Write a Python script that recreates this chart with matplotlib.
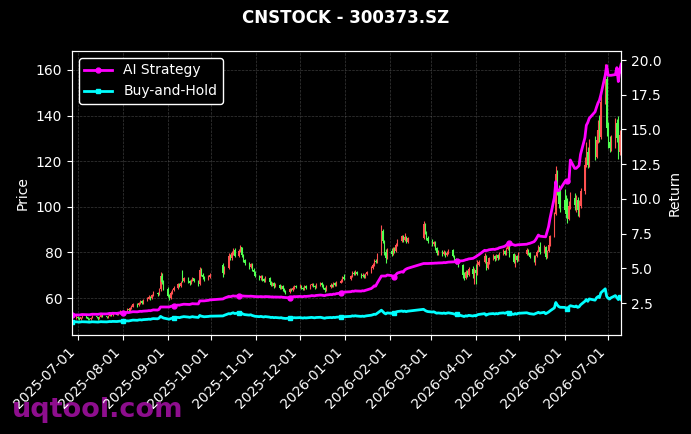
import numpy as np
import pandas as pd
import matplotlib
matplotlib.use("Agg")
import matplotlib.pyplot as plt
import matplotlib.dates as mdates

# ---------------- data ----------------
start_date = "2025-06-27"
end_date = "2026-07-10"
holidays = ["2025-10-01", "2025-10-02", "2025-10-03", "2025-10-06", "2025-10-07", "2025-10-08",
            "2026-01-01", "2026-01-02",
            "2026-02-16", "2026-02-17", "2026-02-18", "2026-02-19", "2026-02-20", "2026-02-23",
            "2026-04-06", "2026-05-01", "2026-05-04", "2026-05-05", "2026-06-19"]

opens = [
    51.0, 51.6,
    # Jul
    51.9, 51.2, 50.8, 51.5, 52.1, 51.6, 51.0, 50.7, 51.4, 52.0, 51.5, 51.0, 51.8, 52.4, 52.0, 51.6, 52.3, 52.9, 52.5, 53.2, 52.8, 53.5, 54.0,
    # Aug
    53.6, 54.3, 55.0, 54.6, 55.6, 56.3, 57.4, 56.8, 57.9, 58.6, 57.8, 58.9, 59.8, 60.6, 59.9, 61.4, 62.3, 61.6, 63.8, 69.5, 67.0,
    # Sep
    64.2, 61.0, 60.2, 62.4, 63.6, 64.5, 66.2, 65.3, 71.2, 67.6, 68.7, 67.3, 66.4, 67.7, 68.6, 67.5, 66.1, 72.5, 70.3, 69.1, 68.2, 69.3,
    # Oct
    74.6, 71.0, 73.2, 78.5, 77.4, 79.6, 81.2, 78.6, 80.8, 82.2, 78.9, 76.5, 75.2, 73.6, 74.8, 72.5, 71.3,
    # Nov
    69.8, 68.6, 69.5, 68.3, 67.4, 68.8, 67.1, 65.8, 66.5, 65.2, 65.9, 64.6, 65.3, 63.8, 63.1, 62.7, 64.0, 63.4, 64.6, 65.3,
    # Dec
    64.8, 65.5, 64.6, 64.0, 65.1, 64.4, 65.6, 66.2, 65.3, 64.7, 65.8, 66.5, 65.6, 64.3, 63.5, 65.0, 65.9, 65.2, 66.4, 65.7, 66.8, 67.6, 69.2,
    # Jan
    68.4, 69.6, 71.2, 70.4, 71.5, 70.6, 69.5, 70.3, 69.4, 70.6, 71.4, 73.2, 74.6, 76.4, 75.8, 79.2, 89.5, 85.0, 80.2, 77.6,
    # Feb
    80.8, 79.2, 81.8, 80.6, 83.4, 85.2, 87.0, 85.4, 86.6, 84.8, 86.2, 92.4, 89.0, 86.4,
    # Mar
    85.0, 83.6, 84.4, 82.0, 79.8, 80.6, 79.2, 80.4, 78.9, 79.8, 81.0, 78.6, 77.1, 75.8, 76.5, 74.6, 70.2, 69.0, 71.6, 70.2, 72.8, 70.6,
    # Apr
    72.4, 70.8, 74.6, 75.8, 78.4, 73.2, 75.6, 77.4, 78.6, 77.0, 78.8, 77.5, 79.6, 80.8, 79.4, 81.6, 83.2, 79.4, 76.0, 78.6, 76.8,
    # May
    79.4, 81.2, 79.6, 78.2, 76.4, 78.6, 80.4, 82.6, 80.2, 82.6, 78.0, 80.6, 83.4, 87.2, 97.0, 114.5, 106.5, 101.2,
    # Jun
    102.8, 103.4, 99.6, 94.8, 100.2, 104.0, 100.6, 103.2, 98.6, 100.4, 106.8, 118.4, 124.0, 118.2, 126.0, 122.0, 129.4, 133.6, 130.4, 145.8, 156.0,
    # Jul
    134.5, 128.2, 125.6, 129.8, 136.8, 130.2, 124.0, 131.4,
]

highs = [
    52.4, 52.6,
    52.3, 51.7, 51.9, 52.6, 52.4, 51.9, 51.3, 51.8, 52.5, 52.3, 51.8, 52.2, 52.9, 52.7, 52.3, 52.7, 53.4, 53.2, 53.7, 53.6, 54.0, 54.6, 54.4,
    54.8, 55.5, 55.4, 56.0, 56.9, 57.9, 57.8, 58.4, 59.3, 59.0, 59.5, 60.5, 61.4, 61.0, 62.0, 63.0, 62.8, 64.5, 71.4, 70.8, 68.0,
    64.8, 61.6, 62.9, 64.2, 65.1, 66.8, 66.7, 67.4, 72.3, 69.4, 69.1, 67.8, 68.2, 69.2, 69.0, 67.9, 73.6, 73.0, 70.9, 69.7, 69.9, 70.8,
    75.4, 74.0, 79.8, 79.2, 80.5, 82.0, 81.9, 81.6, 83.2, 82.6, 79.5, 77.1, 75.9, 75.4, 75.2, 73.1, 71.9,
    70.3, 70.2, 69.9, 68.8, 69.6, 69.2, 67.6, 67.1, 66.9, 66.5, 66.3, 65.9, 65.7, 64.4, 63.6, 64.6, 64.5, 65.2, 65.9, 65.8,
    66.1, 65.9, 65.0, 65.7, 65.6, 66.2, 66.8, 66.6, 65.8, 66.4, 67.1, 66.9, 66.0, 64.8, 65.6, 66.5, 66.3, 67.0, 66.9, 67.3, 68.2, 69.8, 70.5,
    70.3, 71.8, 71.7, 72.1, 71.9, 71.0, 70.9, 70.7, 71.2, 72.0, 73.9, 75.3, 77.0, 77.2, 79.9, 92.0, 90.4, 85.6, 81.3, 81.9,
    82.0, 82.4, 82.3, 84.0, 86.0, 87.8, 87.5, 88.6, 87.1, 86.9, 93.8, 93.0, 89.6, 87.0,
    85.8, 85.0, 84.9, 82.5, 81.2, 81.0, 81.0, 80.8, 80.5, 81.6, 81.4, 79.0, 77.6, 77.1, 77.0, 75.1, 71.4, 72.4, 72.2, 73.5, 74.2, 73.0,
    75.0, 76.5, 76.9, 79.6, 78.9, 76.4, 78.1, 79.2, 79.0, 79.4, 79.3, 80.2, 81.4, 81.2, 82.3, 84.1, 83.8, 79.9, 79.5, 79.1, 80.0,
    82.0, 81.7, 80.1, 78.8, 79.1, 81.2, 83.4, 84.6, 83.4, 83.0, 81.2, 84.2, 87.8, 97.8, 118.0, 116.0, 109.6, 108.0,
    107.6, 105.0, 103.8, 102.6, 106.4, 106.0, 105.2, 104.4, 103.0, 108.2, 122.0, 128.2, 126.4, 129.6, 131.0, 133.2, 138.0, 140.2, 150.4, 162.6, 157.2,
    137.2, 131.0, 131.6, 139.0, 138.4, 140.0, 133.6, 135.0,
]

lows = [
    50.6, 51.0,
    50.8, 50.3, 50.5, 51.2, 51.2, 50.6, 50.2, 50.4, 51.1, 51.1, 50.6, 50.8, 51.5, 51.6, 51.2, 51.4, 52.0, 52.1, 52.3, 52.4, 52.6, 53.2, 53.1,
    53.3, 54.0, 54.2, 54.4, 55.3, 56.0, 56.3, 56.5, 57.5, 57.2, 57.6, 58.6, 59.4, 59.2, 59.6, 61.0, 61.0, 61.3, 63.2, 66.2, 63.5,
    60.3, 59.2, 59.8, 62.0, 63.1, 64.1, 64.8, 65.0, 67.0, 67.2, 66.8, 65.9, 66.0, 67.3, 67.0, 65.5, 65.8, 69.8, 68.5, 67.6, 67.9, 68.9,
    69.2, 70.4, 72.8, 76.6, 76.9, 78.8, 77.8, 78.0, 80.1, 78.0, 75.8, 74.4, 72.7, 73.0, 71.8, 70.5, 69.1,
    67.9, 68.1, 67.7, 66.9, 67.0, 66.5, 65.2, 65.1, 64.6, 64.8, 64.0, 64.1, 63.2, 62.5, 62.0, 62.3, 62.9, 63.1, 64.2, 64.3,
    64.4, 64.0, 63.4, 63.7, 63.9, 64.1, 65.1, 64.8, 64.2, 64.4, 65.3, 65.0, 63.8, 62.8, 63.1, 64.6, 64.7, 64.9, 65.1, 65.4, 66.4, 67.2, 67.9,
    68.0, 69.2, 69.9, 70.0, 70.1, 69.0, 69.1, 68.8, 69.0, 70.2, 71.0, 72.8, 74.2, 75.3, 75.5, 78.8, 84.2, 78.9, 75.5, 77.1,
    78.5, 78.8, 79.9, 80.2, 82.8, 84.6, 84.7, 84.9, 84.0, 84.3, 85.8, 88.2, 85.4, 84.2,
    82.9, 82.8, 81.2, 79.0, 79.1, 78.5, 78.8, 78.2, 78.4, 79.3, 77.9, 76.4, 75.0, 74.9, 73.8, 69.0, 67.8, 68.5, 69.4, 69.8, 69.0, 66.2,
    66.0, 70.2, 74.0, 75.2, 72.4, 72.8, 75.0, 76.8, 76.2, 76.5, 76.9, 77.1, 79.0, 78.7, 79.0, 81.0, 78.2, 75.2, 73.6, 76.0, 76.2,
    78.8, 78.9, 77.4, 75.6, 74.5, 78.1, 80.0, 79.4, 79.6, 77.0, 77.4, 80.0, 82.8, 86.6, 96.4, 105.0, 99.5, 97.7,
    97.6, 95.2, 93.0, 94.2, 99.0, 98.4, 97.6, 96.0, 95.4, 99.6, 105.8, 117.6, 116.8, 117.4, 120.6, 121.2, 128.0, 128.6, 129.8, 145.0, 131.0,
    126.0, 124.0, 124.6, 126.0, 128.6, 121.0, 122.8, 121.4,
]

closes = [
    51.5, 51.9,
    51.2, 50.8, 51.5, 52.1, 51.6, 51.0, 50.7, 51.4, 52.0, 51.5, 51.0, 51.8, 52.4, 52.0, 51.6, 52.3, 52.9, 52.5, 53.2, 52.8, 53.5, 54.0, 53.6,
    54.3, 55.0, 54.6, 55.6, 56.3, 57.4, 56.8, 57.9, 58.6, 57.8, 58.9, 59.8, 60.6, 59.9, 61.4, 62.3, 61.6, 63.8, 69.5, 67.0, 64.2,
    61.0, 60.2, 62.4, 63.6, 64.5, 66.2, 65.3, 66.8, 67.6, 68.7, 67.3, 66.4, 67.7, 68.6, 67.5, 66.1, 72.5, 70.3, 69.1, 68.2, 69.3, 70.1,
    71.0, 73.2, 78.5, 77.4, 79.6, 81.2, 78.6, 80.8, 82.2, 78.9, 76.5, 75.2, 73.6, 74.8, 72.5, 71.3, 69.8,
    68.6, 69.5, 68.3, 67.4, 68.8, 67.1, 65.8, 66.5, 65.2, 65.9, 64.6, 65.3, 63.8, 63.1, 62.7, 64.0, 63.4, 64.6, 65.3, 64.8,
    65.5, 64.6, 64.0, 65.1, 64.4, 65.6, 66.2, 65.3, 64.7, 65.8, 66.5, 65.6, 64.3, 63.5, 65.0, 65.9, 65.2, 66.4, 65.7, 66.8, 67.6, 69.2, 68.4,
    69.6, 71.2, 70.4, 71.5, 70.6, 69.5, 70.3, 69.4, 70.6, 71.4, 73.2, 74.6, 76.4, 75.8, 79.2, 89.5, 85.0, 80.2, 77.6, 80.8,
    79.2, 81.8, 80.6, 83.4, 85.2, 87.0, 85.4, 86.6, 84.8, 86.2, 92.4, 89.0, 86.4, 85.0,
    83.6, 84.4, 82.0, 79.8, 80.6, 79.2, 80.4, 78.9, 79.8, 81.0, 78.6, 77.1, 75.8, 76.5, 74.6, 70.2, 69.0, 71.6, 70.2, 72.8, 70.6, 72.4,
    70.8, 74.6, 75.8, 78.4, 73.2, 75.6, 77.4, 78.6, 77.0, 78.8, 77.5, 79.6, 80.8, 79.4, 81.6, 83.2, 79.4, 76.0, 78.6, 76.8, 79.4,
    81.2, 79.6, 78.2, 76.4, 78.6, 80.4, 82.6, 80.2, 82.6, 78.0, 80.6, 83.4, 87.2, 97.0, 114.5, 106.5, 101.2, 99.0,
    98.6, 97.0, 94.8, 100.2, 104.0, 100.6, 103.2, 98.6, 100.4, 106.8, 118.4, 124.0, 118.2, 126.0, 122.0, 129.4, 133.6, 130.4, 145.8, 158.8, 134.5,
    128.2, 125.6, 129.8, 136.8, 130.2, 124.0, 131.4, 123.6,
]

ai_strategy = [
    1.64, 1.65,
    1.65, 1.64, 1.66, 1.68, 1.67, 1.66, 1.66, 1.68, 1.70, 1.69, 1.69, 1.71, 1.73, 1.72, 1.72, 1.74, 1.76, 1.75, 1.77, 1.76, 1.78, 1.80, 1.79,
    1.81, 1.83, 1.82, 1.84, 1.86, 1.88, 1.87, 1.89, 1.91, 1.90, 1.92, 1.94, 1.96, 1.95, 1.98, 2.01, 2.00, 2.05, 2.22, 2.22, 2.22,
    2.22, 2.22, 2.26, 2.29, 2.32, 2.36, 2.35, 2.38, 2.40, 2.42, 2.41, 2.40, 2.43, 2.46, 2.45, 2.44, 2.66, 2.66, 2.66, 2.66, 2.70, 2.73,
    2.80, 2.86, 2.98, 2.96, 2.99, 3.02, 3.00, 3.01, 3.03, 3.02, 3.01, 3.00, 2.99, 3.00, 2.99, 2.98, 2.97,
    2.96, 2.97, 2.96, 2.95, 2.97, 2.96, 2.94, 2.95, 2.93, 2.94, 2.93, 2.94, 2.92, 2.91, 2.90, 2.88, 2.92, 2.95, 2.97, 2.96,
    2.98, 2.97, 2.96, 2.99, 2.98, 3.01, 3.04, 3.03, 3.02, 3.05, 3.08, 3.07, 3.05, 3.04, 3.08, 3.12, 3.11, 3.15, 3.14, 3.18, 3.22, 3.30, 3.29,
    3.32, 3.36, 3.35, 3.38, 3.37, 3.36, 3.39, 3.38, 3.42, 3.45, 3.55, 3.63, 3.74, 3.72, 3.92, 4.45, 4.45, 4.45, 4.45, 4.52,
    4.48, 4.40, 4.38, 4.55, 4.66, 4.76, 4.72, 4.88, 4.95, 5.00, 5.35, 5.35, 5.35, 5.35,
    5.36, 5.37, 5.38, 5.38, 5.39, 5.40, 5.42, 5.41, 5.43, 5.45, 5.46, 5.47, 5.49, 5.52, 5.53, 5.55, 5.58, 5.62, 5.64, 5.68, 5.72, 5.78,
    5.84, 5.92, 5.98, 6.30, 6.28, 6.30, 6.34, 6.38, 6.36, 6.40, 6.42, 6.48, 6.56, 6.60, 6.68, 6.78, 6.80, 6.70, 6.66, 6.68, 6.70,
    6.74, 6.78, 6.80, 6.92, 7.04, 7.22, 7.40, 7.32, 7.28, 7.27, 7.63, 8.00, 8.60, 10.10, 11.25, 10.60, 10.60, 10.70,
    11.20, 11.35, 11.30, 11.20, 12.80, 12.20, 12.20, 12.30, 12.40, 13.20, 14.40, 15.30, 15.50, 15.80, 16.27, 16.60, 16.90, 17.10, 17.50, 18.90, 19.60,
    18.90, 18.90, 18.90, 18.95, 19.45, 18.45, 19.30, 19.70,
]

buy_hold = [
    1.144, 1.153,
    1.138, 1.129, 1.144, 1.158, 1.147, 1.133, 1.127, 1.142, 1.156, 1.144, 1.133, 1.151, 1.164, 1.156, 1.147, 1.162, 1.176, 1.167, 1.182, 1.173, 1.189, 1.200, 1.191,
    1.207, 1.222, 1.213, 1.236, 1.251, 1.276, 1.262, 1.287, 1.302, 1.284, 1.309, 1.329, 1.347, 1.331, 1.364, 1.384, 1.369, 1.418, 1.544, 1.489, 1.427,
    1.356, 1.338, 1.387, 1.413, 1.433, 1.471, 1.451, 1.484, 1.502, 1.527, 1.496, 1.476, 1.504, 1.524, 1.500, 1.469, 1.611, 1.562, 1.536, 1.516, 1.540, 1.558,
    1.578, 1.627, 1.744, 1.720, 1.769, 1.804, 1.747, 1.796, 1.827, 1.753, 1.700, 1.671, 1.636, 1.662, 1.611, 1.584, 1.551,
    1.524, 1.544, 1.518, 1.498, 1.529, 1.491, 1.462, 1.478, 1.449, 1.464, 1.436, 1.451, 1.418, 1.402, 1.393, 1.422, 1.409, 1.436, 1.451, 1.440,
    1.456, 1.436, 1.422, 1.447, 1.431, 1.458, 1.471, 1.451, 1.438, 1.462, 1.478, 1.458, 1.429, 1.411, 1.444, 1.464, 1.449, 1.476, 1.460, 1.484, 1.502, 1.538, 1.520,
    1.547, 1.582, 1.564, 1.589, 1.569, 1.544, 1.562, 1.542, 1.569, 1.587, 1.627, 1.658, 1.698, 1.684, 1.760, 1.989, 1.889, 1.782, 1.724, 1.796,
    1.760, 1.818, 1.791, 1.853, 1.893, 1.933, 1.898, 1.924, 1.884, 1.916, 2.053, 1.978, 1.920, 1.889,
    1.858, 1.876, 1.822, 1.773, 1.791, 1.760, 1.787, 1.753, 1.773, 1.800, 1.747, 1.713, 1.684, 1.700, 1.658, 1.560, 1.533, 1.591, 1.560, 1.618, 1.569, 1.609,
    1.573, 1.658, 1.684, 1.742, 1.627, 1.680, 1.720, 1.747, 1.711, 1.751, 1.722, 1.769, 1.796, 1.764, 1.813, 1.849, 1.764, 1.689, 1.747, 1.707, 1.764,
    1.804, 1.769, 1.738, 1.698, 1.747, 1.787, 1.836, 1.782, 1.836, 1.733, 1.791, 1.853, 1.938, 2.156, 2.544, 2.367, 2.249, 2.200,
    2.191, 2.156, 2.107, 2.227, 2.311, 2.236, 2.293, 2.191, 2.231, 2.373, 2.631, 2.756, 2.627, 2.800, 2.711, 2.876, 2.969, 2.898, 3.240, 3.529, 2.989,
    2.849, 2.791, 2.884, 3.040, 2.893, 2.756, 2.920, 2.747,
]

title_text = "CNSTOCK - 300373.SZ"
watermark_text = "uqtool.com"

# ---------------- build ----------------
dates = pd.bdate_range(start_date, end_date)
dates = dates[~dates.isin(pd.to_datetime(holidays))]
n = min(len(dates), len(opens), len(highs), len(lows), len(closes), len(ai_strategy), len(buy_hold))
x = mdates.date2num(dates[:n].to_pydatetime())
o = np.array(opens[:n]); h = np.array(highs[:n]); l = np.array(lows[:n]); c = np.array(closes[:n])
ai = np.array(ai_strategy[:n]); bh = np.array(buy_hold[:n])

fig = plt.figure(figsize=(6.91, 4.34), dpi=100, facecolor="black")
ax1 = fig.add_axes([0.104, 0.228, 0.795, 0.6545])
ax1.set_facecolor("black")

up = c >= o
col = np.where(up, "#ff5050", "#50ff50")
ax1.vlines(x, l, h, colors=col, linewidth=0.8, zorder=2)
ax1.bar(x, np.maximum(np.abs(c - o), 0.15), width=0.7, bottom=np.minimum(o, c),
        color=col, linewidth=0, zorder=2)

ax1.set_xlim(x[0], x[-1])
ax1.set_ylim(43.8, 168.3)
ax1.set_ylabel("Price", color="white", fontsize=10)
ax1.grid(True, color="gray", linestyle="--", linewidth=0.5, alpha=0.45)
ax1.xaxis.set_major_locator(mdates.MonthLocator())
ax1.xaxis.set_major_formatter(mdates.DateFormatter("%Y-%m-%d"))
ax1.tick_params(colors="white", labelsize=10)
plt.setp(ax1.get_xticklabels(), rotation=45, ha="right", rotation_mode="default")

ax2 = ax1.twinx()
ax2.plot(x, ai, color="magenta", linewidth=2, marker="o", markersize=3.5, markevery=25, label="AI Strategy")
ax2.plot(x, bh, color="cyan", linewidth=2, marker="s", markersize=3.5, markevery=25, label="Buy-and-Hold")
ax2.set_ylim(0.2, 20.65)
ax2.set_ylabel("Return", color="white", fontsize=10)
ax2.tick_params(colors="white", labelsize=10)

for ax in (ax1, ax2):
    for s in ax.spines.values():
        s.set_color("white")

leg = ax2.legend(loc="upper left", facecolor="black", edgecolor="white", labelcolor="white",
                 fontsize=10, framealpha=1.0)

fig.text(0.5, 0.958, title_text, color="white", fontsize=12, fontweight="bold",
         ha="center", va="center")
fig.text(12 / 691, 0.040, watermark_text, color="#8e0e8e", fontsize=19.5, fontweight="bold",
         ha="left", va="baseline", zorder=-1)

fig.savefig("out.png", dpi=100, facecolor="black")
